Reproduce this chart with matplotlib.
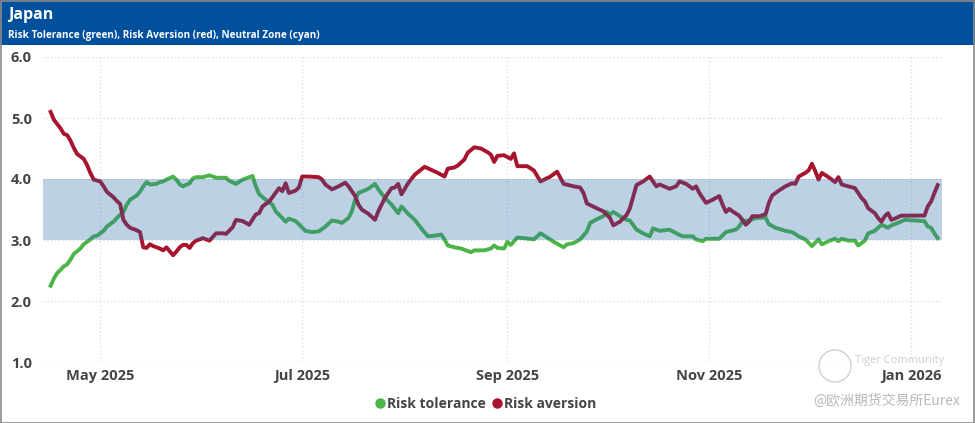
import matplotlib
matplotlib.use("Agg")
import matplotlib.pyplot as plt
from matplotlib.lines import Line2D
from matplotlib.patches import Rectangle, Ellipse
import pandas as pd

title = "Japan"
subtitle = "Risk Tolerance (green), Risk Aversion (red), Neutral Zone (cyan)"
series_names = ["Risk tolerance", "Risk aversion"]
neutral_zone = [3.0, 4.0]
y_ticks = [1.0, 2.0, 3.0, 4.0, 5.0, 6.0]
x_tick_dates = ["2025-05-01", "2025-07-01", "2025-09-01", "2025-11-01", "2026-01-01"]
x_tick_labels = ["May 2025", "Jul 2025", "Sep 2025", "Nov 2025", "Jan 2026"]

green_dates = [
    "2025-04-16", "2025-04-17", "2025-04-18", "2025-04-19", "2025-04-20", "2025-04-21", "2025-04-22",
    "2025-04-23", "2025-04-25", "2025-04-26", "2025-04-28", "2025-04-29", "2025-04-30", "2025-05-02",
    "2025-05-03", "2025-05-05", "2025-05-06", "2025-05-08", "2025-05-09", "2025-05-10", "2025-05-12",
    "2025-05-13", "2025-05-14", "2025-05-15", "2025-05-16", "2025-05-18", "2025-05-19", "2025-05-20",
    "2025-05-21", "2025-05-23", "2025-05-24", "2025-05-25", "2025-05-26", "2025-05-28", "2025-05-29",
    "2025-05-30", "2025-06-01", "2025-06-03", "2025-06-05", "2025-06-08", "2025-06-09", "2025-06-11",
    "2025-06-13", "2025-06-16", "2025-06-17", "2025-06-18", "2025-06-20", "2025-06-22", "2025-06-23",
    "2025-06-25", "2025-06-26", "2025-06-27", "2025-06-29", "2025-06-30", "2025-07-02", "2025-07-04",
    "2025-07-06", "2025-07-08", "2025-07-10", "2025-07-12", "2025-07-13", "2025-07-15", "2025-07-16",
    "2025-07-17", "2025-07-18", "2025-07-21", "2025-07-23", "2025-07-24", "2025-07-26", "2025-07-28",
    "2025-07-30", "2025-07-31", "2025-08-02", "2025-08-04", "2025-08-06", "2025-08-08", "2025-08-10",
    "2025-08-12", "2025-08-13", "2025-08-14", "2025-08-16", "2025-08-18", "2025-08-21", "2025-08-22",
    "2025-08-25", "2025-08-27", "2025-08-28", "2025-08-29", "2025-08-31", "2025-09-01", "2025-09-02",
    "2025-09-04", "2025-09-06", "2025-09-09", "2025-09-11", "2025-09-13", "2025-09-15", "2025-09-18",
    "2025-09-19", "2025-09-21", "2025-09-23", "2025-09-25", "2025-09-26", "2025-09-28", "2025-09-30",
    "2025-10-01", "2025-10-02", "2025-10-03", "2025-10-05", "2025-10-07", "2025-10-08", "2025-10-10",
    "2025-10-12", "2025-10-14", "2025-10-15", "2025-10-17", "2025-10-20", "2025-10-22", "2025-10-24",
    "2025-10-27", "2025-10-28", "2025-10-30", "2025-10-31", "2025-11-04", "2025-11-06", "2025-11-09",
    "2025-11-10", "2025-11-11", "2025-11-13", "2025-11-15", "2025-11-18", "2025-11-19", "2025-11-21",
    "2025-11-24", "2025-11-26", "2025-11-28", "2025-11-30", "2025-12-02", "2025-12-04", "2025-12-05",
    "2025-12-07", "2025-12-09", "2025-12-10", "2025-12-11", "2025-12-13", "2025-12-15", "2025-12-16",
    "2025-12-18", "2025-12-19", "2025-12-21", "2025-12-22", "2025-12-23", "2025-12-25", "2025-12-26",
    "2025-12-28", "2025-12-30", "2026-01-02", "2026-01-05", "2026-01-06", "2026-01-07", "2026-01-08",
    "2026-01-09",
]
green_vals = [
    2.25, 2.37, 2.46, 2.51, 2.57, 2.60, 2.68,
    2.77, 2.86, 2.93, 3.01, 3.06, 3.07, 3.15,
    3.22, 3.30, 3.36, 3.46, 3.58, 3.66, 3.73,
    3.79, 3.88, 3.95, 3.91, 3.92, 3.95, 3.96,
    3.99, 4.04, 3.99, 3.91, 3.88, 3.93, 4.01,
    4.03, 4.03, 4.06, 4.02, 4.02, 3.97, 3.92,
    3.99, 4.05, 3.88, 3.75, 3.66, 3.58, 3.47,
    3.36, 3.30, 3.35, 3.31, 3.26, 3.15, 3.13,
    3.14, 3.22, 3.32, 3.30, 3.28, 3.36, 3.47,
    3.66, 3.77, 3.84, 3.92, 3.83, 3.69, 3.58,
    3.44, 3.55, 3.43, 3.33, 3.19, 3.06, 3.07,
    3.09, 3.01, 2.91, 2.88, 2.86, 2.80, 2.83,
    2.83, 2.86, 2.91, 2.87, 2.86, 2.97, 2.92,
    3.04, 3.03, 3.01, 3.11, 3.04, 2.97, 2.88,
    2.93, 2.95, 3.01, 3.14, 3.28, 3.34, 3.39,
    3.46, 3.42, 3.46, 3.39, 3.33, 3.32, 3.17,
    3.11, 3.06, 3.19, 3.15, 3.17, 3.11, 3.06,
    3.06, 3.01, 2.98, 3.02, 3.02, 3.13, 3.17,
    3.22, 3.31, 3.32, 3.36, 3.37, 3.26, 3.20,
    3.15, 3.13, 3.06, 3.01, 2.90, 3.01, 2.93,
    2.98, 3.02, 2.98, 3.02, 2.99, 2.99, 2.91,
    2.99, 3.11, 3.15, 3.20, 3.25, 3.20, 3.24,
    3.28, 3.33, 3.32, 3.31, 3.22, 3.20, 3.11,
    3.03,
]

red_dates = [
    "2025-04-16", "2025-04-17", "2025-04-18", "2025-04-19", "2025-04-20", "2025-04-21", "2025-04-22",
    "2025-04-23", "2025-04-24", "2025-04-26", "2025-04-27", "2025-04-28", "2025-04-29", "2025-05-01",
    "2025-05-02", "2025-05-03", "2025-05-05", "2025-05-06", "2025-05-07", "2025-05-08", "2025-05-09",
    "2025-05-10", "2025-05-12", "2025-05-13", "2025-05-14", "2025-05-15", "2025-05-16", "2025-05-17",
    "2025-05-19", "2025-05-20", "2025-05-21", "2025-05-23", "2025-05-24", "2025-05-25", "2025-05-26",
    "2025-05-27", "2025-05-28", "2025-05-29", "2025-05-30", "2025-06-01", "2025-06-03", "2025-06-05",
    "2025-06-07", "2025-06-08", "2025-06-10", "2025-06-11", "2025-06-13", "2025-06-15", "2025-06-17",
    "2025-06-18", "2025-06-19", "2025-06-21", "2025-06-22", "2025-06-24", "2025-06-25", "2025-06-26",
    "2025-06-27", "2025-06-29", "2025-06-30", "2025-07-01", "2025-07-03", "2025-07-06", "2025-07-07",
    "2025-07-08", "2025-07-10", "2025-07-12", "2025-07-14", "2025-07-15", "2025-07-17", "2025-07-18",
    "2025-07-19", "2025-07-21", "2025-07-23", "2025-07-24", "2025-07-26", "2025-07-28", "2025-07-29",
    "2025-07-30", "2025-07-31", "2025-08-01", "2025-08-02", "2025-08-04", "2025-08-07", "2025-08-09",
    "2025-08-11", "2025-08-13", "2025-08-14", "2025-08-16", "2025-08-17", "2025-08-19", "2025-08-20",
    "2025-08-22", "2025-08-24", "2025-08-26", "2025-08-27", "2025-08-28", "2025-08-29", "2025-08-31",
    "2025-09-02", "2025-09-03", "2025-09-04", "2025-09-07", "2025-09-09", "2025-09-11", "2025-09-14",
    "2025-09-16", "2025-09-18", "2025-09-21", "2025-09-23", "2025-09-24", "2025-09-25", "2025-09-28",
    "2025-09-30", "2025-10-02", "2025-10-03", "2025-10-05", "2025-10-07", "2025-10-08", "2025-10-09",
    "2025-10-10", "2025-10-12", "2025-10-14", "2025-10-16", "2025-10-17", "2025-10-20", "2025-10-22",
    "2025-10-23", "2025-10-25", "2025-10-27", "2025-10-28", "2025-10-29", "2025-10-31", "2025-11-02",
    "2025-11-04", "2025-11-05", "2025-11-06", "2025-11-07", "2025-11-08", "2025-11-10", "2025-11-11",
    "2025-11-12", "2025-11-13", "2025-11-14", "2025-11-16", "2025-11-18", "2025-11-19", "2025-11-20",
    "2025-11-22", "2025-11-24", "2025-11-26", "2025-11-27", "2025-11-28", "2025-11-30", "2025-12-01",
    "2025-12-02", "2025-12-03", "2025-12-04", "2025-12-05", "2025-12-07", "2025-12-09", "2025-12-10",
    "2025-12-11", "2025-12-13", "2025-12-15", "2025-12-16", "2025-12-17", "2025-12-18", "2025-12-19",
    "2025-12-21", "2025-12-22", "2025-12-23", "2025-12-24", "2025-12-25", "2025-12-26", "2025-12-27",
    "2025-12-29", "2026-01-05", "2026-01-06", "2026-01-07", "2026-01-08", "2026-01-09",
]
red_vals = [
    5.10, 4.97, 4.90, 4.83, 4.74, 4.72, 4.63,
    4.51, 4.41, 4.33, 4.23, 4.10, 3.99, 3.96,
    3.88, 3.79, 3.70, 3.64, 3.59, 3.33, 3.25,
    3.20, 3.16, 3.13, 2.88, 2.87, 2.93, 2.90,
    2.86, 2.83, 2.88, 2.75, 2.81, 2.88, 2.92,
    2.92, 2.87, 2.95, 2.99, 3.03, 2.99, 3.11,
    3.11, 3.10, 3.21, 3.33, 3.31, 3.25, 3.42,
    3.44, 3.55, 3.63, 3.70, 3.85, 3.80, 3.93,
    3.77, 3.81, 3.86, 4.04, 4.04, 4.03, 3.99,
    3.91, 3.83, 3.88, 3.94, 3.88, 3.72, 3.58,
    3.50, 3.43, 3.33, 3.47, 3.69, 3.85, 3.86,
    3.92, 3.75, 3.84, 3.93, 4.07, 4.20, 4.15,
    4.10, 4.04, 4.17, 4.19, 4.22, 4.32, 4.43,
    4.52, 4.50, 4.44, 4.40, 4.28, 4.38, 4.39,
    4.33, 4.42, 4.21, 4.21, 4.14, 3.96, 4.04,
    4.12, 3.92, 3.88, 3.86, 3.77, 3.60, 3.52,
    3.47, 3.36, 3.24, 3.30, 3.41, 3.52, 3.71,
    3.90, 3.96, 4.04, 3.88, 3.91, 3.84, 3.88,
    3.96, 3.92, 3.84, 3.88, 3.77, 3.61, 3.66,
    3.72, 3.58, 3.46, 3.51, 3.47, 3.40, 3.33,
    3.25, 3.30, 3.39, 3.39, 3.42, 3.61, 3.73,
    3.81, 3.88, 3.93, 3.92, 4.04, 4.10, 4.14,
    4.25, 4.13, 3.99, 4.10, 4.03, 3.95, 4.03,
    3.91, 3.88, 3.85, 3.77, 3.69, 3.63, 3.52,
    3.44, 3.36, 3.30, 3.39, 3.44, 3.33, 3.35,
    3.40, 3.40, 3.55, 3.63, 3.77, 3.90,
]

GREEN = "#4cb448"
RED = "#a8132d"
BAR = "#00509e"
TXT = "#444444"
FONT = ["Open Sans", "DejaVu Sans"]
plt.rcParams["font.family"] = FONT

fig = plt.figure(figsize=(9.75, 4.23), dpi=100)
W, H = 975, 423

# header bar
fig.patches.append(Rectangle((0, 1 - 45 / H), 1, 45 / H, transform=fig.transFigure,
                             facecolor=BAR, edgecolor="none", zorder=0))
fig.patches.append(Rectangle((0.5 / W, 0.5 / H), 1 - 1.5 / W, 1 - 1.5 / H, transform=fig.transFigure,
                             facecolor="none", edgecolor="#8a8a8a", linewidth=1.2, zorder=5))
fig.text(8 / W, 1 - 15 / H, title, color="white", fontsize=11.5, fontweight="bold",
         va="center", ha="left")
fig.text(8 / W, 1 - 35.5 / H, subtitle, color="white", fontsize=7.2, fontweight="bold",
         va="center", ha="left")

left, right, top, bottom = 43, 942, 57, 362
ax = fig.add_axes([left / W, 1 - bottom / H, (right - left) / W, (bottom - top) / H])

gd = pd.to_datetime(green_dates)
rd = pd.to_datetime(red_dates)
ax.plot(gd, green_vals, color=GREEN, lw=2.8, zorder=2, solid_joinstyle="round")
ax.plot(rd, red_vals, color=RED, lw=2.8, zorder=2, solid_joinstyle="round")
ax.axhspan(neutral_zone[0], neutral_zone[1], color="#2669ac", alpha=0.3, lw=0, zorder=3)

base = pd.Timestamp("2025-05-01")
ax.set_xlim(base + pd.Timedelta(days=-17.3), base + pd.Timedelta(days=254.3))
ax.set_ylim(1.0, 6.0)
ax.set_yticks(y_ticks)
ax.set_yticklabels([f"{v:.1f}" for v in y_ticks])
ax.set_xticks(pd.to_datetime(x_tick_dates))
ax.set_xticklabels(x_tick_labels)
for lab in ax.get_xticklabels() + ax.get_yticklabels():
    lab.set_fontweight("bold")
    lab.set_color(TXT)
    lab.set_fontsize(10.5)
ax.tick_params(axis="both", length=0)
ax.tick_params(axis="y", pad=8)
ax.tick_params(axis="x", pad=5)
ax.grid(True, axis="both", color="#d8d8d8", linestyle=(0, (1, 2)), linewidth=0.9, zorder=0)
for s in ax.spines.values():
    s.set_visible(False)

handles = [Line2D([], [], marker="o", linestyle="none", color=GREEN, markersize=6.5),
           Line2D([], [], marker="o", linestyle="none", color=RED, markersize=6.5)]
leg = fig.legend(handles, series_names, loc="center", bbox_to_anchor=(485 / W, 1 - 404 / H),
                 ncol=2, frameon=False, handletextpad=0.0, columnspacing=0.3,
                 handlelength=1.0, prop={"weight": "bold", "size": 10})
for t in leg.get_texts():
    t.set_color(TXT)

# watermark
fig.patches.append(Ellipse((835 / W, 1 - 366 / H), 32 / W, 32 / H, transform=fig.transFigure,
                           facecolor="none", edgecolor="#d0d0d0", linewidth=1.0, zorder=4))
fig.text(855 / W, 1 - 360 / H, "Tiger Community", color="#cfcfcf", fontsize=8,
         ha="left", va="center")
fig.text(960 / W, 1 - 401 / H, "@欧洲期货交易所Eurex", color="#b8b8b8", fontsize=10,
         ha="right", va="center", family=["Noto Sans CJK SC", "DejaVu Sans"])

fig.savefig("out.png", dpi=100)
